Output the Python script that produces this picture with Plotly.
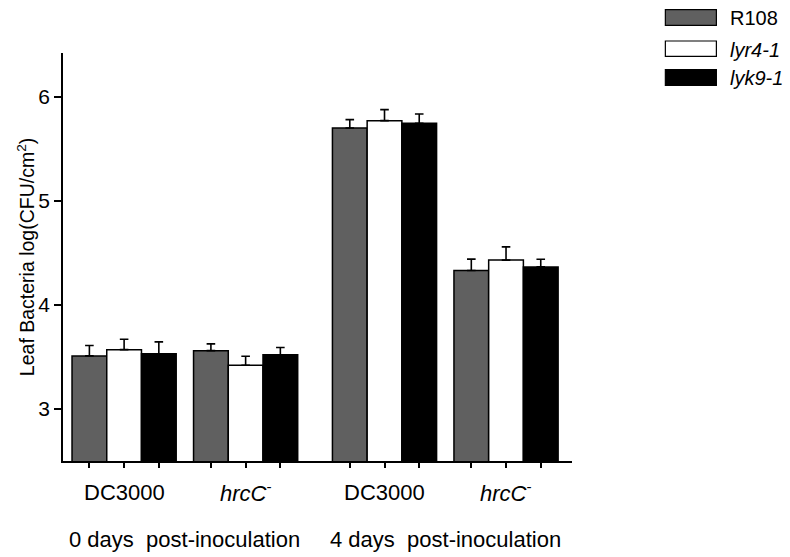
import plotly.graph_objects as go

# Data: leaf bacterial titres, log10(CFU/cm2), mean and SE (upper bar only)
lines = ["R108", "lyr4-1", "lyk9-1"]
line_labels = ["R108", "<i>lyr4-1</i>", "<i>lyk9-1</i>"]
strain_labels = ["DC3000", "<i>hrcC</i><sup>-</sup>", "DC3000", "<i>hrcC</i><sup>-</sup>"]
timepoint_labels = ["0 days\u00a0 post-inoculation", "4 days\u00a0 post-inoculation"]

r108_mean = [3.51, 3.56, 5.70, 4.33]
r108_err = [0.10, 0.065, 0.08, 0.11]
lyr4_mean = [3.57, 3.42, 5.77, 4.43]
lyr4_err = [0.10, 0.086, 0.106, 0.127]
lyk9_mean = [3.53, 3.52, 5.745, 4.365]
lyk9_err = [0.115, 0.07, 0.089, 0.074]

# Layout of the four bar groups along a numeric x axis (units of one bar width)
group_pos = [1.76, 5.26, 9.26, 12.76]
fills = ["#606060", "#ffffff", "#000000"]

FONT = "Liberation Sans, Arial, sans-serif"

# Plot-area geometry in pixels
W, H = 790, 557
L, R, T, B = 63, 218.3, 52.7, 96
PW, PH = W - L - R, H - T - B


def px_x(x):
    return (x - L) / PW


def px_y(y):
    return (H - B - y) / PH


fig = go.Figure()
for name, mean, err, color in zip(lines, [r108_mean, lyr4_mean, lyk9_mean],
                                  [r108_err, lyr4_err, lyk9_err], fills):
    fig.add_trace(go.Bar(
        name=name, x=group_pos, y=mean, base=0,
        marker=dict(color=color, line=dict(color="#000000", width=1.5)),
        error_y=dict(type="data", array=err, arrayminus=[0] * len(err), symmetric=False,
                     color="#000000", thickness=1.6, width=4.3),
        showlegend=False,
    ))

bar_centers = [g + d for g in group_pos for d in (-1, 0, 1)]

fig.update_layout(
    width=W, height=H,
    margin=dict(l=L, r=R, t=T, b=B, pad=0),
    paper_bgcolor="white", plot_bgcolor="white",
    barmode="group", bargap=1 - 3 / 3.5, bargroupgap=0,
    font=dict(family=FONT, size=21, color="#000000"),
    xaxis=dict(range=[0, 14.66], showgrid=False, zeroline=False,
               showline=True, linecolor="#000000", linewidth=1.5,
               tickmode="array", tickvals=bar_centers, showticklabels=False,
               ticks="outside", ticklen=5, tickwidth=1.5, tickcolor="#000000"),
    yaxis=dict(range=[2.5, 6.42], showgrid=False, zeroline=False,
               showline=True, linecolor="#000000", linewidth=1.5,
               tickmode="array", tickvals=[3, 4, 5, 6],
               ticks="outside", ticklen=7, tickwidth=1.5, tickcolor="#000000",
               tickfont=dict(size=21)),
)

# Strain labels under each group
for g, lab in zip(group_pos, strain_labels):
    fig.add_annotation(x=g, y=px_y(492.5), xref="x", yref="paper", text=lab,
                       showarrow=False, xanchor="center", yanchor="middle",
                       font=dict(size=22))

# Time-point labels under each pair of groups
for i, lab in enumerate(timepoint_labels):
    xc = (group_pos[2 * i] + group_pos[2 * i + 1]) / 2
    fig.add_annotation(x=xc, y=px_y(540), xref="x", yref="paper", text=lab,
                       showarrow=False, xanchor="center", yanchor="middle",
                       font=dict(size=22))

# Y-axis title
fig.add_annotation(x=px_x(26), y=px_y(257), xref="paper", yref="paper",
                   text="Leaf Bacteria log(CFU/cm<sup>2</sup>)", textangle=-90,
                   showarrow=False, xanchor="center", yanchor="middle",
                   font=dict(size=19.5))

# Legend: swatches and labels
sw_x0, sw_x1, txt_x = 665, 716, 728
rows = [(9.3, 25), (40.7, 56), (69.3, 85)]
for (y0, y1), color, lab in zip(rows, fills, line_labels):
    fig.add_shape(type="rect", xref="paper", yref="paper",
                  x0=px_x(sw_x0), x1=px_x(sw_x1), y0=px_y(y1), y1=px_y(y0),
                  fillcolor=color, line=dict(color="#000000", width=1.2))
    fig.add_annotation(x=px_x(txt_x), y=px_y((y0 + y1) / 2 + 1), xref="paper", yref="paper",
                       text=lab, showarrow=False, xanchor="left", yanchor="middle",
                       font=dict(size=20))

fig.write_html("out.html")
